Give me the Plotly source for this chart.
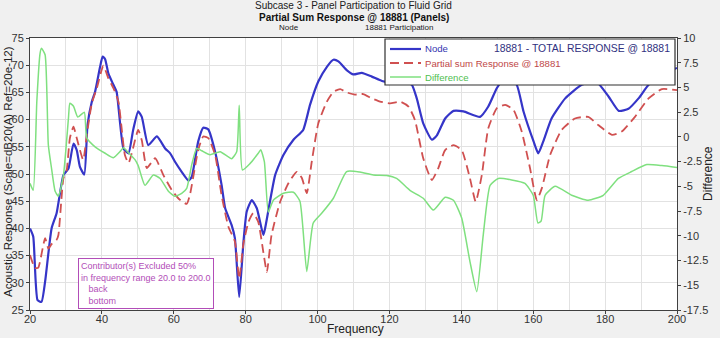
import plotly.graph_objects as go

# ---------------- data ----------------
node_f = [20, 20.9, 22.1, 23.2, 24.2, 26.0, 27.4, 29.3, 30.7, 32.1, 33.0, 33.9, 35.1, 36.0, 37.2,
          38.1, 39.5, 40.2, 40.9, 41.8, 43.2, 44.1, 46.0, 47.4, 48.7, 50.1, 51.1, 52.9, 55.3, 57.6,
          59.0, 60.3, 62.2, 64.1, 65.0, 66.8, 68.2, 69.6, 71.5, 73.3, 74.3, 76.1, 77.0, 78.2, 79.4,
          80.3, 81.7, 83.1, 84.9, 85.4, 88.2, 90.5, 93.3, 96.0, 97.9, 100.2, 102.6, 104.4, 105.8,
          108.1, 110.0, 112.3, 115.1, 117.9, 120.5, 123.5, 126.2, 127.6, 129.4, 131.8, 133.2, 135.5,
          137.8, 140.6, 145.2, 147.5, 149.9, 152.5, 155.4, 157.3, 160.1, 161.4, 162.8, 165.1, 168.9,
          173.5, 177.5, 181.0, 183.8, 186.5, 189.3, 192.1, 196, 200]
node_db = [40, 38.5, 26.8, 26.5, 30.2, 40, 42.8, 49.8, 51, 55.6, 54.4, 51.3, 49.9, 59, 63.3,
           65.1, 69.7, 71.6, 71.1, 68.5, 66.4, 65.1, 54.7, 53.8, 58.1, 61.5, 60.5, 55.3, 56.9, 54.7,
           53.8, 52.3, 50.4, 48.8, 49.5, 56, 58.5, 58.2, 54.1, 48, 43.7, 40.6, 38.2, 27.4, 37.6,
           43.1, 45.2, 43.7, 38.8, 40, 49.8, 53.5, 56.3, 58.1, 62.7, 67, 69.7, 71, 70.7,
           69.1, 68.3, 68.6, 67.9, 67.1, 66.8, 67.0, 66.4, 63.9, 59.3, 56.3, 57.1, 60.2,
           61.6, 61.5, 60.5, 62.4, 65.8, 68.0, 66.4, 61.5, 56, 53.8, 56, 60.2, 63.9,
           66.4, 67.0, 64.2, 61.6, 62, 63.9, 66.4, 68.3, 69.5]

partial_f = [20, 21.4, 22.3, 24.2, 25.1, 26.0, 27.4, 27.9, 29.3, 30.2, 31.1, 32.1, 33.0, 34.8, 35.8,
             37.2, 38.6, 40.4, 41.8, 43.2, 44.6, 46.4, 47.4, 48.3, 50.1, 51.1, 52.5, 54.8, 57.1, 59.4,
             61.3, 63.6, 64.5, 66.8, 68.2, 69.6, 71.5, 73.3, 75.2, 77.0, 78.2, 79.4, 80.8, 82.1, 83.5,
             84.9, 85.9, 87.2, 89.6, 91.9, 94.2, 95.6, 97.0, 98.4, 100.2, 102.6, 104.4, 106.3, 108.1,
             110.4, 112.7, 115.1, 117.4, 120.2, 123.0, 125.3, 127.1, 129.4, 131.8, 133.6, 135.5, 137.8,
             140.1, 142.4, 144.0, 145.7, 147.5, 149.9, 152.2, 154.5, 156.8, 159.1, 161.0, 162.4, 164.7,
             167.9, 171.6, 175.3, 178.1, 181.9, 184.6, 188.3, 192.1, 195.8, 200]
partial_db = [35.1, 32.7, 32.8, 38.2, 36.3, 37.1, 37.9, 38.8, 49.2, 50.7, 56.6, 58.7, 56.6, 52.6, 57.2,
              63, 65.8, 69.9, 67.6, 65.8, 63.3, 53.5, 52, 53.8, 58.1, 56.2, 51.1, 52.9, 49.8, 47.1,
              45.5, 44.5, 46.2, 54.4, 56.9, 56.6, 53.5, 46.1, 40.3, 37.6, 30.8, 37.3, 41.2, 42.8, 41.2,
              35.7, 32, 38.8, 44.9, 48.3, 50.4, 49.3, 46.5, 52.3, 59.3, 63.3, 65.1, 65.6, 65.0,
              64.6, 64.7, 63.9, 63.3, 63, 63.3, 62.4, 59.9, 52.9, 48.9, 51.1, 54.4, 55.3,
              54.4, 49.2, 44.9, 49.8, 58.4, 62.1, 62.7, 61.8, 57.8, 51.1, 45.2, 47.4, 53.5,
              58.1, 60.2, 60.5, 59, 57.2, 57.8, 60.5, 63.9, 65.6, 65.4]

diff_f = [20, 20.9, 21.9, 22.8, 23.2, 24.2, 25.1, 26.0, 27.0, 27.9,
          29.3, 30.7, 31.1, 32.1, 33.3, 35.1, 35.8, 38.1, 40.9, 43.2,
          45.0, 46.0, 47.4, 49.2, 50.1, 52.0, 54.3, 56.2, 58.5, 60.3,
          62.2, 63.6, 65.0, 66.4, 67.8, 70.1, 72.9, 76.1, 77.5, 78.2,
          79.1, 81.2, 83.5, 84.2, 85.2, 86.3, 87.7, 90.5, 93.3, 95.1,
          97.0, 98.8, 101.2, 104.4, 108.1, 111.8, 115.5, 119.2, 122.0, 125.7,
          129.4, 132.2, 135.5, 137.8, 140.1, 142.4, 144.3, 146.1, 148.0, 150.3,
          154.0, 157.7, 160.0, 161.3, 162.2, 163.3, 166.1, 170.7, 175.3, 179.5,
          183.7, 187.4, 191.6, 195.8, 200]
diff_db = [-4.7, -5.4, 3.6, 8.45, 8.96, 8.3, -0.8, -3.2, -5.5, -6.0,
           -3.9, 1.9, 3.4, 3.1, 2.0, 2.5, -0.1, -1.0, -1.65, -2.1,
           -1.5, -1.1, -1.6, -2.3, -2.9, -4.9, -3.85, -4.2, -5.5, -6.0,
           -5.7, -5.2, -2.8, -1.15, -1.4, -1.8, -1.5, -2.2, -1.5, 3.2,
           -3.35, -2.7, -1.65, -1.3, -2.5, -7.6, -6.4, -5.7, -5.6, -6.5,
           -13.6, -8.7, -7.7, -6.2, -3.5, -3.55, -3.85, -3.9, -4.2, -5.4,
           -6.2, -7.4, -6.1, -6.4, -8.2, -12.6, -15.65, -9.9, -4.9, -4.2,
           -4.35, -4.7, -5.9, -8.7, -8.5, -5.9, -5.0, -5.9, -6.4, -5.9,
           -4.2, -3.5, -2.8, -2.9, -3.1]

assert len(node_f) == len(node_db)
assert len(partial_f) == len(partial_db)
assert len(diff_f) == len(diff_db)

x_ticks = [20, 40, 60, 80, 100, 120, 140, 160, 180, 200]
y_ticks = [75, 70, 65, 60, 55, 50, 45, 40, 35, 30, 25]
y2_ticks = [10, 7.5, 5, 2.5, 0, -2.5, -5, -7.5, -10, -12.5, -15, -17.5]
y2_labels = ["10", "7.5", "5", "2.5", "0", "-2.5", "-5", "-7.5", "-10", "-12.5", "-15", "-17.5"]

series_names = ["Node", "Partial sum Response @ 18881", "Difference"]
total_label = "18881 - TOTAL RESPONSE @ 18881"
note_lines = ["Contributor(s) Excluded 50%", "in frequency range 20.0 to 200.0",
              "\u00a0\u00a0\u00a0back", "\u00a0\u00a0\u00a0bottom"]

# ---------------- styles ----------------
FONT = "Liberation Sans, Arial, sans-serif"
C_NODE = "#3535c8"
C_PART = "#d05050"
C_DIFF = "#7fe07f"
C_NOTE = "#b24db8"
C_AX = "#404040"

fig = go.Figure()
fig.add_trace(go.Scatter(x=node_f, y=node_db, name=series_names[0], mode="lines",
                         line=dict(color=C_NODE, width=2.2, shape="spline", smoothing=0.5)))
fig.add_trace(go.Scatter(x=partial_f, y=partial_db, name=series_names[1], mode="lines",
                         line=dict(color=C_PART, width=1.8, dash="9px,5px", shape="spline", smoothing=0.5)))
fig.add_trace(go.Scatter(x=diff_f, y=diff_db, name=series_names[2], mode="lines", yaxis="y2",
                         line=dict(color=C_DIFF, width=1.5, shape="spline", smoothing=0.5)))

# plot area geometry (pixels) for paper conversions of decorations
L, R, T, B = 30, 677, 38, 310
W, H = R - L, B - T
def px(xp):
    return (xp - L) / W
def py(yp):
    return (B - yp) / H

shapes = []
annotations = []

# custom legend box
shapes.append(dict(type="rect", xref="paper", yref="paper", x0=px(385), x1=px(675), y0=py(85), y1=py(39),
                   fillcolor="white", line=dict(color="#303030", width=1.2), layer="above"))
rows = [49, 63, 77]
colors = [C_NODE, C_PART, C_DIFF]
dashes = ["solid", "9px,5px", "solid"]
widths = [2.2, 1.8, 1.5]
txtcol = ["#3535b0", "#c04848", "#50c050"]
for i in range(3):
    shapes.append(dict(type="line", xref="paper", yref="paper", x0=px(390), x1=px(421), y0=py(rows[i]), y1=py(rows[i]),
                       line=dict(color=colors[i], width=widths[i], dash=dashes[i]), layer="above"))
    annotations.append(dict(xref="paper", yref="paper", x=px(423), y=py(rows[i]), text=series_names[i],
                            showarrow=False, xanchor="left", yanchor="middle",
                            font=dict(family=FONT, size=9.6, color=txtcol[i])))
annotations.append(dict(xref="paper", yref="paper", x=px(672), y=py(rows[0]), text=total_label,
                        showarrow=False, xanchor="right", yanchor="middle",
                        font=dict(family=FONT, size=10.4, color="#303080")))

# note box
annotations.append(dict(xref="paper", yref="paper", x=px(78), y=py(258), text="<br>".join(note_lines),
                        showarrow=False, xanchor="left", yanchor="top", align="left",
                        font=dict(family=FONT, size=9, color=C_NOTE),
                        bgcolor="white", bordercolor=C_NOTE, borderwidth=1, borderpad=2))

# titles
annotations.append(dict(xref="paper", yref="paper", x=0.5, y=py(6), text="Subcase 3 - Panel Participation to Fluid Grid",
                        showarrow=False, xanchor="center", yanchor="middle",
                        font=dict(family=FONT, size=10, color="#202020")))
annotations.append(dict(xref="paper", yref="paper", x=0.5, y=py(17), text="<b>Partial Sum Response @ 18881 (Panels)</b>",
                        showarrow=False, xanchor="center", yanchor="middle",
                        font=dict(family=FONT, size=10, color="#101010")))
annotations.append(dict(xref="paper", yref="paper", x=px(289), y=py(28), text="Node",
                        showarrow=False, xanchor="center", yanchor="middle",
                        font=dict(family=FONT, size=8, color="#202020")))
annotations.append(dict(xref="paper", yref="paper", x=px(399), y=py(28), text="18881 Participation",
                        showarrow=False, xanchor="center", yanchor="middle",
                        font=dict(family=FONT, size=8, color="#202020")))

# axis titles placed in the margins
annotations.append(dict(xref="paper", yref="paper", x=px(355), y=py(329), text="Frequency",
                        showarrow=False, xanchor="center", yanchor="middle",
                        font=dict(family=FONT, size=12, color="#222222")))
annotations.append(dict(xref="paper", yref="paper", x=px(708), y=py(174), text="Difference",
                        showarrow=False, xanchor="center", yanchor="middle", textangle=-90,
                        font=dict(family=FONT, size=12, color="#222222")))
annotations.append(dict(xref="paper", yref="paper", x=px(8), y=py(172),
                        text="Acoustic Response (Scale=dB20(A) Ref=20e-12)",
                        showarrow=False, xanchor="center", yanchor="middle", textangle=-90,
                        font=dict(family=FONT, size=11.5, color="#222222")))

axis_common = dict(showline=True, linecolor=C_AX, linewidth=1, mirror=True,
                   ticks="outside", ticklen=3, tickcolor=C_AX,
                   tickfont=dict(family=FONT, size=11, color="#333333"),
                   zeroline=False)

fig.update_layout(
    width=720, height=338,
    margin=dict(l=L, r=720 - R, t=T, b=338 - B, autoexpand=False),
    paper_bgcolor="#f0f0f0", plot_bgcolor="white",
    showlegend=False,
    font=dict(family=FONT, size=11, color="#333333"),
    xaxis=dict(range=[20, 200], tickvals=x_ticks, automargin=False, ticklabelstandoff=-4,
               showgrid=True, gridcolor="#e2e2e2", gridwidth=1,
               minor=dict(dtick=10, showgrid=True, gridcolor="#e2e2e2", ticks=""),
               **axis_common),
    yaxis=dict(range=[25, 75], tickvals=y_ticks, automargin=False,
               showgrid=True, gridcolor="#e2e2e2", gridwidth=1,
               **axis_common),
    yaxis2=dict(range=[-17.5, 10], tickvals=y2_ticks, ticktext=y2_labels, overlaying="y", side="right",
                automargin=False, showgrid=False, **axis_common),
    shapes=shapes,
    annotations=annotations,
)

fig.write_html("out.html", config={"displayModeBar": False},
               post_script="document.body.style.margin='0px';")
